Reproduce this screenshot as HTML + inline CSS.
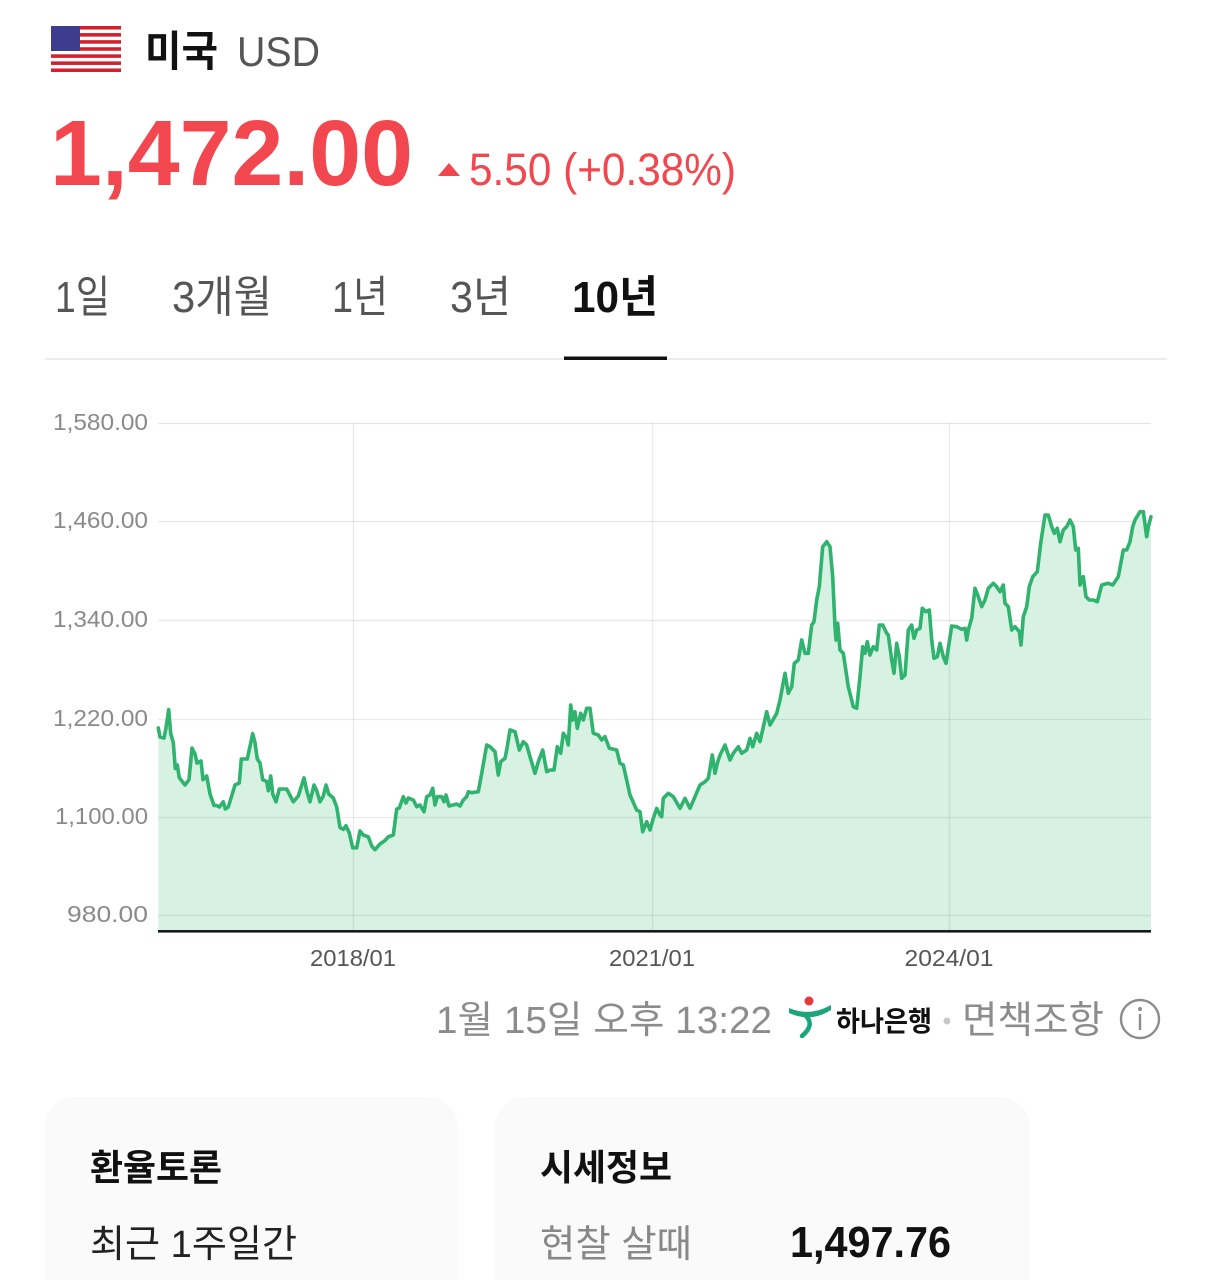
<!DOCTYPE html>
<html><head><meta charset="utf-8"><style>
html,body{margin:0;padding:0;background:#fff;}
body{width:1213px;height:1280px;overflow:hidden;}
svg{display:block;}
text{font-family:"Liberation Sans","Noto Sans CJK KR",sans-serif;}
</style></head><body>
<svg width="1213" height="1280" viewBox="0 0 1213 1280" xmlns="http://www.w3.org/2000/svg">
<rect width="1213" height="1280" fill="#fff"/>
<!-- flag -->
<g>
<rect x="51" y="26" width="70" height="46" fill="#fff"/>
<rect x="51" y="26.0" width="70" height="3.54" fill="#d2202c"/>
<rect x="51" y="33.08" width="70" height="3.54" fill="#d2202c"/>
<rect x="51" y="40.16" width="70" height="3.54" fill="#d2202c"/>
<rect x="51" y="47.24" width="70" height="3.54" fill="#d2202c"/>
<rect x="51" y="54.32" width="70" height="3.54" fill="#d2202c"/>
<rect x="51" y="61.4" width="70" height="3.54" fill="#d2202c"/>
<rect x="51" y="68.46" width="70" height="3.54" fill="#d2202c"/>
<rect x="51" y="26" width="29" height="25" fill="#3d3d8f"/>
</g>
<text x="145" y="66" font-size="42" font-weight="bold" fill="#111" textLength="73" lengthAdjust="spacingAndGlyphs">미국</text>
<text x="237" y="66" font-size="42" fill="#555" textLength="83" lengthAdjust="spacingAndGlyphs">USD</text>
<text x="50" y="185" font-size="93" font-weight="bold" fill="#f2474e" textLength="363" lengthAdjust="spacingAndGlyphs">1,472.00</text>
<polygon points="438,176 460,176 449,163" fill="#f2474e"/>
<text x="469" y="185" font-size="45" fill="#f2474e" textLength="267" lengthAdjust="spacingAndGlyphs">5.50 (+0.38%)</text>
<!-- tabs -->
<text x="55" y="312" font-size="44" fill="#555" textLength="55" lengthAdjust="spacingAndGlyphs">1일</text>
<text x="172" y="312" font-size="44" fill="#555" textLength="100" lengthAdjust="spacingAndGlyphs">3개월</text>
<text x="332" y="312" font-size="44" fill="#555" textLength="56" lengthAdjust="spacingAndGlyphs">1년</text>
<text x="450" y="312" font-size="44" fill="#555" textLength="61" lengthAdjust="spacingAndGlyphs">3년</text>
<text x="572" y="312" font-size="44" font-weight="bold" fill="#111" textLength="86" lengthAdjust="spacingAndGlyphs">10년</text>
<rect x="45" y="358" width="1122" height="2" fill="#ececec"/>
<rect x="564" y="356.5" width="103" height="3.5" fill="#111"/>
<!-- chart -->
<g stroke="#e6e6e6" stroke-width="1.3">
<line x1="158" y1="423.5" x2="1151" y2="423.5"/>
<line x1="158" y1="521.5" x2="1151" y2="521.5"/>
<line x1="158" y1="620.5" x2="1151" y2="620.5"/>
</g>
<polygon fill="#d7f1e3" points="158.3,931 158.3,728 160,737 164,738 166,728 168.7,709.6 170.7,733.6 173.3,742.8 175.3,768.6 177.3,765 179.3,777.8 185,785 189,779.7 192,748 195,754 197,763 201,761 203,779.7 206.7,776 210,794 214,805.5 216.7,805.5 219.3,807 223.3,801.8 225.3,809 228.3,807 235,785 239.3,783 241.3,759 247.3,759 252.7,733.6 255,742.8 257.3,759 260,763 262.7,779.7 266.7,781.5 268.3,790.7 270.7,776 272.7,794 276,801.8 279.3,789 286.7,789 293.3,801.8 298.3,796 304,777.8 306.7,790.7 310,801.8 314,785 316.7,790.7 320,801.8 323.3,796 326,785 328.7,794 333.3,798 336.7,807 340,827.6 343.3,829.4 346,825.7 349.3,833 352.7,847.8 356.7,847.8 360,831 363.3,835 368.3,836.8 371.7,846 375,849.7 380,844 385,840.5 388.3,836.8 393.3,835 396.7,809 399.3,808 403.3,796.7 406,803 408.3,798 413.3,800 416.7,806.7 420,805 424,811.7 426.7,796.7 430,795 432.7,788.3 435,805 437.3,796.7 441.7,796.7 444,801.7 446,795 449,806 453.3,805 456.7,804 460,806 463.3,800 466.7,796.7 468.3,791.7 471.7,792.7 478.3,791.7 481.7,773.3 486.7,745 490,746.7 495,751.7 498.3,775 500.7,761.7 505,758.3 506.7,750 510,730 515,731.7 519.3,750 523.3,741.7 526.7,745 530,756.7 535,773.3 538.3,761.7 542.7,750 546.7,771.7 550,770 554,770 557.3,746.7 560.7,753.3 563.3,733.3 566.7,738.3 568.3,745 570.7,705 572.7,720 575,711.7 577.3,728.3 580.7,713.3 583.3,720 586.7,708.3 590,708.3 593.3,733.3 598.3,735 601.7,740 605,736.7 609.3,748.3 616.7,750 620,763.3 623.3,765 630,795 636.7,810 640,811.7 642.7,831.7 646.7,821.7 650,830 653.3,818.3 656.7,808.3 660,815 661.7,816.7 663.3,798.3 668.3,793.3 673.3,796.7 680,808.3 685,798.3 690,808.3 695,796.7 700,785 705,781.7 708.3,778.3 712.3,755 715,773.3 717.3,763.3 720,755 725,745 730,760 733.3,753.3 738.3,746.7 741.7,753.3 746.7,750 750,738.3 752.7,746.7 756.7,733.3 760,741.7 766.7,711.7 770,725 776.7,713.3 780,700 785,673.3 788.3,693.3 791.7,686.7 794.3,663.3 798.3,660 801.7,640 805,653.3 808.3,653.3 811.7,625 814,621.7 816.7,600 819.3,586.7 822.7,546.7 826.7,541.7 830,546.7 832.7,576.7 835,626.7 836,640 837.7,623.3 840,650 843.3,653.3 848.3,686.7 853.3,706.7 856.7,708.3 860,676.7 862.7,646.7 865,653.3 867.3,641.7 870,655 873.3,646.7 876.7,650 879.3,625 882.7,625 886.7,633.3 888.3,635 891.7,660 894,673.3 896.7,643.3 899.3,656.7 901.7,678.3 905,675 908.3,630 911.7,625 914,638.3 916.7,630 920,628.3 922.3,608.3 925.7,611.7 929.3,610 931.7,640 934,658.3 937.3,656.7 940,643.3 943.3,656.7 946,663.3 948.3,648.3 951.7,626 956.7,626.7 961.7,629.3 965,628.3 966.7,640 968.3,630 971.7,618.3 975,588.3 978.3,596.7 981.7,606.7 985,600 988.3,588.3 993.3,583.3 996.7,586.7 1000,591.7 1003.3,585 1005,603.3 1008.3,606.7 1011.7,630 1015,626.7 1019.3,631.7 1021,645 1023.3,616.7 1026.7,606.7 1029.3,586.7 1032.7,576.7 1037.3,571.7 1040.7,543.3 1045,515 1048.3,515 1051.7,526.7 1054.3,533.3 1057.3,528.3 1060,541.7 1063.3,530 1066.7,526.7 1070,520 1073.3,526.7 1075.7,550 1078.3,548.3 1080,585 1083.3,576.7 1086,596.7 1089.3,600 1093.3,600 1097.3,601.7 1101.7,585 1108.3,583.3 1112.7,585 1118.3,576.7 1123.3,550 1126.7,550 1130,541.7 1132.7,526.7 1135,520 1140,511.7 1143.3,511.7 1146.7,536.7 1148.3,526.7 1151,516.7 1151,931"/>
<g stroke="#000" stroke-opacity="0.08" stroke-width="1.3">
<line x1="158" y1="719.5" x2="1151" y2="719.5"/>
<line x1="158" y1="817.5" x2="1151" y2="817.5"/>
<line x1="158" y1="915.5" x2="1151" y2="915.5"/>
<line x1="353.5" y1="423" x2="353.5" y2="931"/>
<line x1="652.5" y1="423" x2="652.5" y2="931"/>
<line x1="949.5" y1="423" x2="949.5" y2="931"/>
</g>
<polyline fill="none" stroke="#2fb36e" stroke-width="3.6" stroke-linejoin="round" stroke-linecap="round" points="158.3,728 160,737 164,738 166,728 168.7,709.6 170.7,733.6 173.3,742.8 175.3,768.6 177.3,765 179.3,777.8 185,785 189,779.7 192,748 195,754 197,763 201,761 203,779.7 206.7,776 210,794 214,805.5 216.7,805.5 219.3,807 223.3,801.8 225.3,809 228.3,807 235,785 239.3,783 241.3,759 247.3,759 252.7,733.6 255,742.8 257.3,759 260,763 262.7,779.7 266.7,781.5 268.3,790.7 270.7,776 272.7,794 276,801.8 279.3,789 286.7,789 293.3,801.8 298.3,796 304,777.8 306.7,790.7 310,801.8 314,785 316.7,790.7 320,801.8 323.3,796 326,785 328.7,794 333.3,798 336.7,807 340,827.6 343.3,829.4 346,825.7 349.3,833 352.7,847.8 356.7,847.8 360,831 363.3,835 368.3,836.8 371.7,846 375,849.7 380,844 385,840.5 388.3,836.8 393.3,835 396.7,809 399.3,808 403.3,796.7 406,803 408.3,798 413.3,800 416.7,806.7 420,805 424,811.7 426.7,796.7 430,795 432.7,788.3 435,805 437.3,796.7 441.7,796.7 444,801.7 446,795 449,806 453.3,805 456.7,804 460,806 463.3,800 466.7,796.7 468.3,791.7 471.7,792.7 478.3,791.7 481.7,773.3 486.7,745 490,746.7 495,751.7 498.3,775 500.7,761.7 505,758.3 506.7,750 510,730 515,731.7 519.3,750 523.3,741.7 526.7,745 530,756.7 535,773.3 538.3,761.7 542.7,750 546.7,771.7 550,770 554,770 557.3,746.7 560.7,753.3 563.3,733.3 566.7,738.3 568.3,745 570.7,705 572.7,720 575,711.7 577.3,728.3 580.7,713.3 583.3,720 586.7,708.3 590,708.3 593.3,733.3 598.3,735 601.7,740 605,736.7 609.3,748.3 616.7,750 620,763.3 623.3,765 630,795 636.7,810 640,811.7 642.7,831.7 646.7,821.7 650,830 653.3,818.3 656.7,808.3 660,815 661.7,816.7 663.3,798.3 668.3,793.3 673.3,796.7 680,808.3 685,798.3 690,808.3 695,796.7 700,785 705,781.7 708.3,778.3 712.3,755 715,773.3 717.3,763.3 720,755 725,745 730,760 733.3,753.3 738.3,746.7 741.7,753.3 746.7,750 750,738.3 752.7,746.7 756.7,733.3 760,741.7 766.7,711.7 770,725 776.7,713.3 780,700 785,673.3 788.3,693.3 791.7,686.7 794.3,663.3 798.3,660 801.7,640 805,653.3 808.3,653.3 811.7,625 814,621.7 816.7,600 819.3,586.7 822.7,546.7 826.7,541.7 830,546.7 832.7,576.7 835,626.7 836,640 837.7,623.3 840,650 843.3,653.3 848.3,686.7 853.3,706.7 856.7,708.3 860,676.7 862.7,646.7 865,653.3 867.3,641.7 870,655 873.3,646.7 876.7,650 879.3,625 882.7,625 886.7,633.3 888.3,635 891.7,660 894,673.3 896.7,643.3 899.3,656.7 901.7,678.3 905,675 908.3,630 911.7,625 914,638.3 916.7,630 920,628.3 922.3,608.3 925.7,611.7 929.3,610 931.7,640 934,658.3 937.3,656.7 940,643.3 943.3,656.7 946,663.3 948.3,648.3 951.7,626 956.7,626.7 961.7,629.3 965,628.3 966.7,640 968.3,630 971.7,618.3 975,588.3 978.3,596.7 981.7,606.7 985,600 988.3,588.3 993.3,583.3 996.7,586.7 1000,591.7 1003.3,585 1005,603.3 1008.3,606.7 1011.7,630 1015,626.7 1019.3,631.7 1021,645 1023.3,616.7 1026.7,606.7 1029.3,586.7 1032.7,576.7 1037.3,571.7 1040.7,543.3 1045,515 1048.3,515 1051.7,526.7 1054.3,533.3 1057.3,528.3 1060,541.7 1063.3,530 1066.7,526.7 1070,520 1073.3,526.7 1075.7,550 1078.3,548.3 1080,585 1083.3,576.7 1086,596.7 1089.3,600 1093.3,600 1097.3,601.7 1101.7,585 1108.3,583.3 1112.7,585 1118.3,576.7 1123.3,550 1126.7,550 1130,541.7 1132.7,526.7 1135,520 1140,511.7 1143.3,511.7 1146.7,536.7 1148.3,526.7 1151,516.7"/>
<rect x="158" y="930" width="993" height="2.6" fill="#1a1a1a"/>
<!-- y labels -->
<g font-size="23" fill="#8a8a8a" text-anchor="end">
<text x="148" y="430" textLength="95" lengthAdjust="spacingAndGlyphs">1,580.00</text>
<text x="148" y="528" textLength="95" lengthAdjust="spacingAndGlyphs">1,460.00</text>
<text x="148" y="627" textLength="95" lengthAdjust="spacingAndGlyphs">1,340.00</text>
<text x="148" y="726" textLength="95" lengthAdjust="spacingAndGlyphs">1,220.00</text>
<text x="148" y="824" textLength="93" lengthAdjust="spacingAndGlyphs">1,100.00</text>
<text x="148" y="922" textLength="81" lengthAdjust="spacingAndGlyphs">980.00</text>
</g>
<g font-size="23" fill="#555" text-anchor="middle">
<text x="353" y="966" textLength="86" lengthAdjust="spacingAndGlyphs">2018/01</text>
<text x="652" y="966" textLength="86" lengthAdjust="spacingAndGlyphs">2021/01</text>
<text x="949" y="966" textLength="89" lengthAdjust="spacingAndGlyphs">2024/01</text>
</g>
<!-- footer line -->
<text x="436" y="1033" font-size="38" fill="#8c8c8c" textLength="336" lengthAdjust="spacingAndGlyphs">1월 15일 오후 13:22</text>
<circle cx="809" cy="1001" r="4.5" fill="#e8383d"/>
<path d="M789,1008 Q810,1017 831,1005 L831,1010 Q811,1023 789,1013 Z" fill="#1aa57a"/>
<path d="M806,1016 Q815,1025 802,1036" fill="none" stroke="#1aa57a" stroke-width="4.5" stroke-linecap="round"/>
<text x="836" y="1031" font-size="28" font-weight="bold" fill="#111" textLength="96" lengthAdjust="spacingAndGlyphs">하나은행</text>
<circle cx="947" cy="1021" r="3.5" fill="#c8c8c8"/>
<text x="962" y="1033" font-size="38" fill="#8c8c8c" textLength="142" lengthAdjust="spacingAndGlyphs">면책조항</text>
<circle cx="1140" cy="1019" r="19" fill="none" stroke="#8c8c8c" stroke-width="2.4"/>
<circle cx="1140" cy="1009" r="2" fill="#8c8c8c"/>
<rect x="1138.8" y="1014" width="2.4" height="16" fill="#8c8c8c"/>
<!-- cards -->
<rect x="45" y="1097" width="413" height="230" rx="30" fill="#fafafa"/>
<rect x="495" y="1097" width="535" height="230" rx="30" fill="#fafafa"/>
<text x="90" y="1180" font-size="36" font-weight="bold" fill="#111" textLength="132" lengthAdjust="spacingAndGlyphs">환율토론</text>
<text x="90" y="1257" font-size="38" fill="#222" textLength="207" lengthAdjust="spacingAndGlyphs">최근 1주일간</text>
<text x="540" y="1180" font-size="36" font-weight="bold" fill="#111" textLength="132" lengthAdjust="spacingAndGlyphs">시세정보</text>
<text x="540" y="1257" font-size="38" fill="#888" textLength="152" lengthAdjust="spacingAndGlyphs">현찰 살때</text>
<text x="790" y="1257" font-size="44" font-weight="bold" fill="#111" textLength="161" lengthAdjust="spacingAndGlyphs">1,497.76</text>
</svg>
</body></html>
